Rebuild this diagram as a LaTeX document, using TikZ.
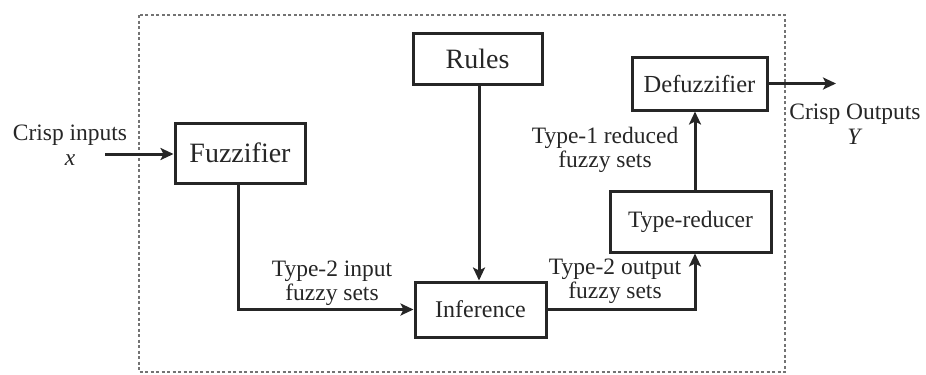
\documentclass[tikz,border=0pt]{standalone}
\usepackage{fontspec}
\setmainfont{Liberation Serif}
\usetikzlibrary{arrows.meta,calc}
\begin{document}
\begin{tikzpicture}[x=1bp,y=-1bp,
  every node/.style={text=black!85},
  blockbox/.style={draw=black!85,line width=3bp,minimum width=#1,inner sep=0pt},
  lbl/.style={align=center,inner sep=0pt,font=\fontsize{23.5bp}{24.5bp}\selectfont},
  conn/.style={draw=black!85,line width=3bp,-{Stealth[length=13bp,width=12bp,inset=3bp]}},
  frame/.style={draw=black!55,line width=1.4bp,dash pattern=on 3bp off 2.5bp}]
\useasboundingbox (0,0) rectangle (926,374);
% system boundary
\draw[frame] (139,15) rectangle (785,372);
% processing blocks
\node[blockbox=130bp,minimum height=60bp,font=\fontsize{28bp}{30bp}\selectfont] (fuzz) at (240,153) {Fuzzifier};
\node[blockbox=129bp,minimum height=51bp,font=\fontsize{28bp}{30bp}\selectfont] (rules) at (477.5,58.5) {Rules};
\node[blockbox=131bp,minimum height=55bp,font=\fontsize{24bp}{26bp}\selectfont] (inf) at (480.5,309.5) {Inference};
\node[blockbox=135bp,minimum height=53bp,font=\fontsize{24.5bp}{26bp}\selectfont] (defuzz) at (699.5,83.5) {Defuzzifier};
\node[blockbox=161bp,minimum height=61bp,font=\fontsize{23.5bp}{26bp}\selectfont] (tr) at (690.5,221.5) {Type-reducer};
% free ends of the outside arrows and connector anchors
\coordinate (xin) at (105,154);
\coordinate (yout) at (836,83.5);
\coordinate (fd) at ($(fuzz.south)+(-2,0)$);
\coordinate (rd) at ($(rules.south)+(1.5,0)$);
\coordinate (trin) at ($(tr.south)+(4.5,0)$);
\coordinate (trout) at ($(tr.north)+(4.5,0)$);
% signal flow
\draw[conn] (xin) -- (xin -| fuzz.west);
\draw[conn] (fd) |- (inf.west);
\draw[conn] (rd) -- (rd |- inf.north);
\draw[conn] (inf.east) -| (trin);
\draw[conn] (trout) -- (trout |- defuzz.south);
\draw[conn] (defuzz.east) -- (yout);
% labels
\node[lbl] (lin) at (70,145) {Crisp inputs\\\textit{x}};
\node[lbl] (lout) at (855,124) {Crisp Outputs\\\textit{Y}};
\node[lbl] (l2in) at (332,283) {Type-2 input\\fuzzy sets};
\node[lbl] (l2out) at (615,281) {Type-2 output\\fuzzy sets};
\node[lbl] (l1red) at (605,150) {Type-1 reduced\\fuzzy sets};
\end{tikzpicture}
\end{document}
